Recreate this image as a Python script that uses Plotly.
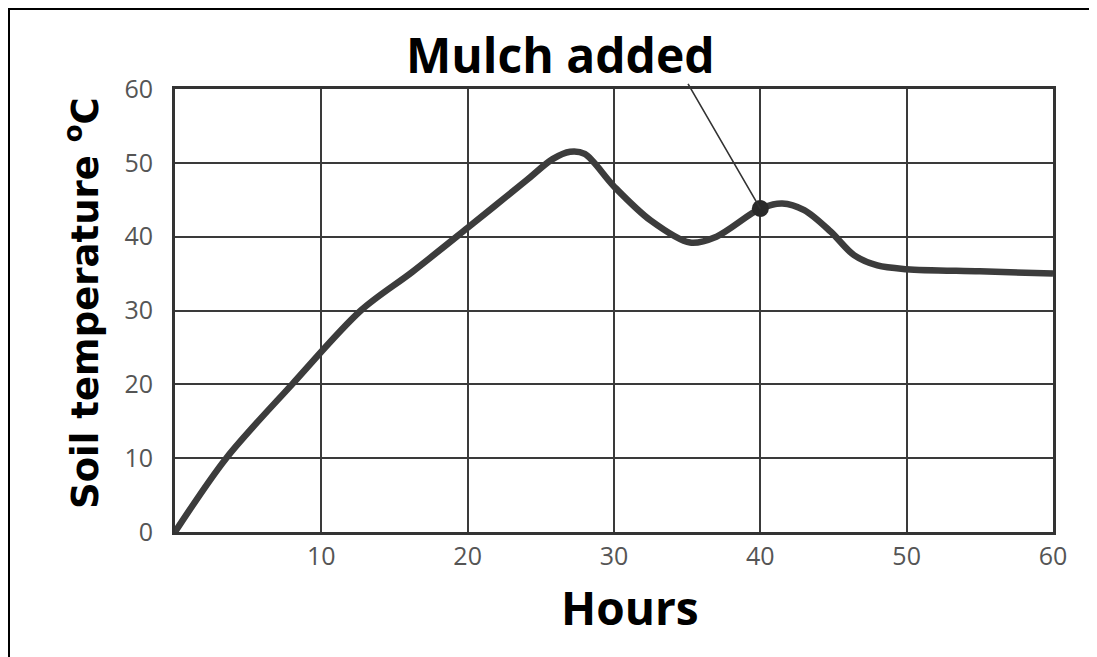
import plotly.graph_objects as go

# Data
hours = [0, 3.5, 8, 12.7, 16.2, 20, 24, 25.8, 27, 28, 30, 32.5,
         35.2, 37, 40, 41.5, 43, 44.8, 46.4, 48, 50, 55, 60]
soil_temp = [0, 10, 20, 30, 35.2, 41.2, 47.6, 50.5, 51.5, 51.2, 46.8, 42.2,
             39.2, 40.0, 43.8, 44.5, 43.6, 40.7, 37.5, 36.1, 35.6, 35.3, 35.0]
mulch_hour = [40]
mulch_temp = [43.8]
x_ticks = [10, 20, 30, 40, 50, 60]
y_ticks = [0, 10, 20, 30, 40, 50, 60]

W, H = 1097, 657
OFF = 8  # page body margin in the browser
L, R, T, B = 175 - OFF, 1053 - OFF, 89 - OFF, 532 - OFF


def px_x(px):
    return (px - OFF - L) / (R - L)


def px_y(py):
    return (B - (py - OFF)) / (B - T)


fig = go.Figure()
fig.add_trace(go.Scatter(
    x=hours, y=soil_temp, mode="lines",
    line=dict(color="#3c3c3c", width=6.5, shape="spline", smoothing=0.9),
    hoverinfo="x+y", showlegend=False,
))
fig.add_trace(go.Scatter(
    x=mulch_hour, y=mulch_temp, mode="markers",
    marker=dict(color="#2a2a2a", size=17),
    showlegend=False,
))

tick_font = dict(family="Open Sans", size=25, color="#555555")

fig.update_xaxes(
    range=[0, 60], tickvals=x_ticks, showgrid=True, gridcolor="#3a3a3a", gridwidth=2,
    showline=True, linecolor="#333333", linewidth=3, mirror=True, zeroline=False,
    ticks="", tickfont=tick_font, fixedrange=True,
)
fig.update_yaxes(
    range=[0, 60], tickvals=y_ticks, showgrid=True, gridcolor="#3a3a3a", gridwidth=2,
    showline=True, linecolor="#333333", linewidth=3, mirror=True, zeroline=False,
    ticks="", tickfont=tick_font, ticklabelstandoff=14, fixedrange=True,
)

annotations = [
    dict(text="<b>Soil temperature <sup>o</sup>C</b>", xref="paper", yref="paper",
         x=px_x(82), y=px_y(303), xanchor="center", yanchor="middle",
         textangle=-90, showarrow=False,
         font=dict(family="DejaVu Sans", size=37, color="#000000")),
    dict(text="<b>Hours</b>", xref="paper", yref="paper",
         x=px_x(630), y=px_y(607), xanchor="center", yanchor="middle", showarrow=False,
         font=dict(family="Open Sans", size=46, color="#000000")),
    dict(text="<b>Mulch added</b>", xref="paper", yref="paper",
         x=px_x(560), y=px_y(54), xanchor="center", yanchor="middle", showarrow=False,
         font=dict(family="Open Sans", size=48, color="#000000")),
    dict(text="", x=mulch_hour[0], y=mulch_temp[0], xref="x", yref="y",
         ax=35.0, ay=60.9, axref="x", ayref="y", showarrow=True,
         arrowhead=0, arrowwidth=1.6, arrowcolor="#333333", standoff=0),
]

shapes = [
    dict(type="line", xref="paper", yref="paper", x0=px_x(8), x1=px_x(1110),
         y0=px_y(8), y1=px_y(8), line=dict(color="#000000", width=4)),
    dict(type="line", xref="paper", yref="paper", x0=px_x(8), x1=px_x(8),
         y0=px_y(8), y1=px_y(670), line=dict(color="#000000", width=4)),
]

fig.update_layout(
    width=W, height=H,
    margin=dict(l=L, r=W - R, t=T, b=H - B),
    paper_bgcolor="white", plot_bgcolor="white",
    annotations=annotations, shapes=shapes,
    showlegend=False,
)

fig.write_html("out.html", config={"displayModeBar": False})
